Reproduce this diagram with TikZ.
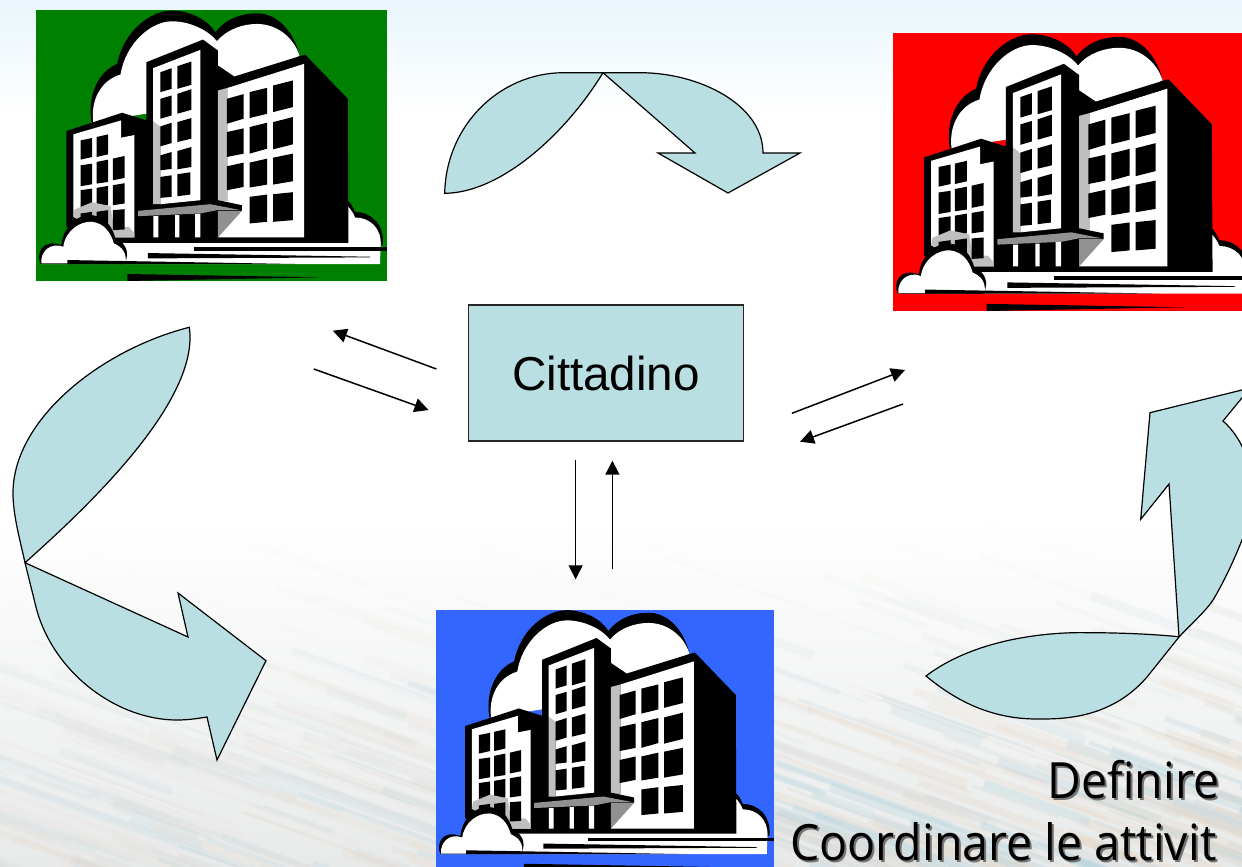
\documentclass[tikz,border=0pt]{standalone}
\usepackage{fontspec}
\setmainfont{Liberation Sans}
\newfontfamily\slidefont[FakeStretch=0.93]{Open Sans}
\usetikzlibrary{arrows.meta}
\definecolor{paleaqua}{HTML}{B9DFE2}
\definecolor{skytint}{HTML}{E9F6FB}
\definecolor{waterblue}{HTML}{B4D4DE}
\definecolor{waterbeige}{HTML}{E8D9C8}
\definecolor{watergrey}{HTML}{D5D8D8}
\definecolor{bluebg}{HTML}{3366FF}
\definecolor{greenbg}{HTML}{008000}
\tikzset{
  flowshape/.style={fill=paleaqua,draw=black,line width=1.2pt,line join=miter},
  citybox/.style={fill=paleaqua,draw=black!85,line width=1.3pt,minimum width=275pt,minimum height=136pt,inner sep=0pt},
  link/.style={draw=black,line width=1.5pt,-{Triangle[length=14pt,width=14pt]}},
  imgbg/.style={anchor=north west,inner sep=0pt,outer sep=0pt},
  slidetext/.style={anchor=base west,inner sep=0pt,font=\slidefont\fontsize{50}{50}\selectfont},
  lightgrey/.style={fill=black!25},
  midgrey/.style={fill=black!43}
}
\newcommand{\win}[8]{\fill[black] (#1,#2) -- (#3,#4) -- (#5,#6) -- (#7,#8) -- cycle;}
\newcommand{\cityart}{%
  % main cloud
  \fill[black] (183,365) .. controls (170,290) and (200,215) .. (260,190) .. controls (280,90) and (360,30) .. (425,30) .. controls (480,30) and (535,60) .. (555,95) .. controls (590,50) and (640,38) .. (680,38) .. controls (740,38) and (790,90) .. (808,165) -- (600,300) -- cycle;
  \fill[white] (188,365) .. controls (180,300) and (210,240) .. (270,222) .. controls (285,130) and (360,62) .. (425,62) .. controls (480,62) and (535,90) .. (560,122) .. controls (590,85) and (640,70) .. (680,70) .. controls (740,70) and (790,110) .. (808,165) -- (600,300) -- cycle;
  % right cloud
  \fill[black] (950,598) .. controls (965,610) and (970,625) .. (975,635) .. controls (1020,635) and (1065,670) .. (1058,735) -- (940,735) -- cycle;
  \fill[white] (950,615) .. controls (965,630) and (970,640) .. (975,652) .. controls (1020,652) and (1055,685) .. (1052,735) -- (940,735) -- cycle;
  % ground
  \fill[white] (280,725) -- (1052,725) -- (1050,792) -- (30,792) -- (60,760) -- cycle;
  % building mass
  \fill[black] (107,392) -- (275,337) -- (348,360) -- (348,185) -- (518,117) -- (563,150) -- (563,195) -- (612,228) -- (825,162) -- (953,295) -- (955,728) -- (250,728) -- (107,680) -- cycle;
  % left block
  \fill[white] (128,402) -- (272,360) -- (272,412) -- (312,404) -- (312,712) -- (250,712) -- (128,650) -- cycle;
  \win{150}{420}{185}{413}{185}{470}{150}{478}\win{198}{410}{233}{402}{233}{462}{198}{470}
  \win{150}{495}{185}{490}{185}{552}{150}{558}\win{198}{485}{233}{478}{233}{545}{198}{550}\win{247}{475}{282}{467}{282}{533}{247}{540}
  \win{150}{570}{185}{565}{185}{620}{150}{625}\win{198}{563}{233}{557}{233}{615}{198}{620}\win{247}{555}{282}{549}{282}{610}{247}{615}
  \fill[lightgrey] (128,650) -- (132,628) -- (185,606) -- (240,618) -- (250,680) -- (295,680) -- (312,700) -- (312,712) -- (250,712) -- cycle;
  \win{150}{640}{185}{635}{185}{680}{150}{680}\win{198}{635}{233}{630}{233}{685}{198}{685}\win{247}{630}{282}{627}{282}{688}{247}{690}
  % centre tower
  \fill[lightgrey] (368,362) -- (390,380) -- (390,612) -- (368,612) -- cycle;
  \fill[white] (368,203) -- (510,148) -- (510,600) -- (390,612) -- (390,380) -- (368,362) -- cycle;
  \win{390}{215}{424}{203}{424}{265}{390}{275}\win{441}{197}{483}{183}{483}{253}{441}{265}
  \win{390}{295}{424}{285}{424}{345}{390}{355}\win{441}{280}{483}{266}{483}{328}{441}{340}
  \win{390}{378}{424}{367}{424}{428}{390}{438}\win{441}{365}{483}{353}{483}{415}{441}{425}
  \win{390}{465}{424}{455}{424}{506}{390}{510}\win{441}{452}{483}{440}{483}{500}{441}{507}
  \win{390}{530}{424}{525}{424}{590}{390}{593}\win{441}{522}{480}{516}{480}{583}{441}{588}
  % right block
  \fill[lightgrey] (563,270) -- (593,262) -- (593,603) -- (563,603) -- cycle;
  \fill[white] (593,262) -- (822,190) -- (822,712) -- (563,712) -- (563,603) -- (593,603) -- cycle;
  \win{590}{295}{640}{281}{640}{355}{590}{370}\win{658}{275}{711}{262}{711}{340}{658}{353}\win{729}{255}{788}{240}{788}{320}{729}{335}
  \win{590}{395}{640}{384}{640}{460}{590}{470}\win{658}{380}{711}{367}{711}{445}{658}{460}\win{729}{365}{788}{350}{788}{432}{729}{447}
  \win{590}{498}{640}{487}{640}{560}{590}{570}\win{658}{487}{711}{475}{711}{553}{658}{562}\win{729}{472}{788}{460}{788}{543}{729}{553}
  \win{658}{590}{711}{583}{711}{665}{658}{670}\win{729}{582}{788}{576}{788}{660}{729}{665}
  % canopy
  \fill[black] (510,600) -- (563,600) -- (635,615) -- (635,632) -- (563,632) -- (563,712) -- (510,712) -- cycle;
  \fill[midgrey] (563,632) -- (635,632) -- (563,712) -- cycle;
  \fill[midgrey] (323,632) -- (540,612) -- (632,630) -- (560,630) -- (510,640) -- (323,648) -- cycle;
  \fill[white] (369,648) rectangle (384,712) (434,645) rectangle (447,712) (494,641) rectangle (510,712);
  % small cloud
  \fill[black] (30,792) .. controls (15,760) and (35,715) .. (92,735) .. controls (100,670) and (150,640) .. (185,645) .. controls (225,650) and (245,680) .. (255,715) .. controls (280,725) and (295,750) .. (288,775) -- (285,792) -- cycle;
  \fill[white] (32,790) .. controls (28,755) and (60,725) .. (98,740) .. controls (105,690) and (150,662) .. (185,665) .. controls (220,670) and (240,695) .. (250,730) .. controls (275,740) and (290,760) .. (285,790) -- cycle;
  % ground strips
  \fill[black] (490,741) rectangle (1071,752);
  \fill[black] (352,759) -- (1020,770) -- (1020,772) -- (352,775) -- cycle;
  \fill[black] (110,780) -- (800,792) -- (110,792) -- cycle;
  \fill[black] (291,822) -- (870,832) -- (291,843) -- cycle;
}
\begin{document}
\begin{tikzpicture}[x=1pt,y=-1pt]
\useasboundingbox (0,0) rectangle (1242,867);
\clip (0,0) rectangle (1242,867);
% background
\fill[white] (0,0) rectangle (1242,867);
\shade[top color=skytint,bottom color=white] (0,0) rectangle (1242,115);
\shade[top color=white,bottom color=watergrey!55] (0,520) rectangle (1242,867);
\pgfmathsetseed{4217}
\foreach \i in {1,...,420}{
  \pgfmathsetmacro{\sx}{rnd*1500-200}
  \pgfmathsetmacro{\sy}{500+sqrt(rnd)*380}
  \pgfmathsetmacro{\sl}{60+rnd*240}
  \pgfmathsetmacro{\sw}{1.5+rnd*9}
  \pgfmathsetmacro{\op}{max(0,(\sy-520)/347)*(0.16+0.30*max(0,\sx)/1242)}
  \pgfmathtruncatemacro{\pick}{int(rnd*3)}
  \ifcase\pick\def\tint{waterblue}\or\def\tint{waterbeige}\else\def\tint{watergrey}\fi
  \draw[color=\tint,opacity=\op,line width=\sw pt] (\sx,\sy) -- ++(\sl,0.36*\sl);
}
% buildings
\node[imgbg,fill=greenbg,minimum width=351pt,minimum height=271pt] (greenimg) at (36,10) {};
\begin{scope}[shift={(36,10)},xscale=0.3327,yscale=0.3325,shift={(-16,-28)}]\cityart\end{scope}
\node[imgbg,fill=red,minimum width=359pt,minimum height=277.5pt] (redimg) at (893,33.5) {};
\begin{scope}[shift={(893,33.5)},xscale=0.3403,yscale=0.3405,shift={(-16,-28)}]\cityart\end{scope}
\node[imgbg,fill=bluebg,minimum width=337.5pt,minimum height=261pt] (blueimg) at (436,609.5) {};
\begin{scope}[shift={(436,609.5)},xscale=0.3199,yscale=0.3202,shift={(-16,-28)}]\cityart\end{scope}
% curved arrows
\path[flowshape] (444.7,193.3) .. controls (446,125) and (500,73) .. (563,72.7) -- (603,72.7) -- (640,72.7) .. controls (700,72.7) and (763,105) .. (763,153) -- (800,153) -- (728,193) -- (658,153) -- (695,153) -- (603,72.7) .. controls (565,135) and (500,193) .. (444.7,193.3) -- cycle;
\path[flowshape] (189.3,327.3) .. controls (100,350) and (13,420) .. (13,493) .. controls (13,515) and (20,540) .. (25,562.7) -- (35,603) .. controls (50,670) and (115,720) .. (177,720) .. controls (190,720) and (200,718) .. (207,717) -- (217,760) -- (266,660.7) -- (178,593) -- (188,637) -- (25,562.7) .. controls (90,505) and (200,400) .. (189.3,327.3) -- cycle;
\path[flowshape] (926,676) .. controls (980,635) and (1060,632) .. (1087,632.7) .. controls (1120,632.7) and (1150,634) .. (1179,636.7) -- (1169,484) -- (1140.7,519.3) -- (1150,412.7) -- (1250,388) -- (1223,421) .. controls (1250,445) and (1262,490) .. (1242,540) .. controls (1232,565) and (1222,585) .. (1213,600) .. controls (1205,612) and (1190,625) .. (1179,637) -- (1147,677) .. controls (1110,720) and (1060,719) .. (1037,719) .. controls (990,719) and (955,700) .. (926,676) -- cycle;
% centre
\node[citybox] (citt) at (606,373) {\fontsize{47.6}{48}\selectfont Cittadino};
\coordinate (a1s) at (436.4,369); \coordinate (a1e) at (332.8,330.7);
\coordinate (a2s) at (313.8,369); \coordinate (a2e) at (428.5,410);
\coordinate (a3s) at (791.9,413.3); \coordinate (a3e) at (905,370);
\coordinate (a4s) at (903,404); \coordinate (a4e) at (800,441.7);
\coordinate (a5s) at (575.6,460); \coordinate (a5e) at (575.6,579.3);
\coordinate (a6s) at (612.4,568.7); \coordinate (a6e) at (612.4,460.7);
\draw[link] (a1s) -- (a1e);
\draw[link] (a2s) -- (a2e);
\draw[link] (a3s) -- (a3e);
\draw[link] (a4s) -- (a4e);
\draw[link] (a5s) -- (a5e);
\draw[link] (a6s) -- (a6e);
% slide text
\node[slidetext,text=black!55] (defs) at (1049,800) {Definire};
\node[slidetext,text=black] (deft) at (1047,798) {Definire};
\node[slidetext,text=black!55] (coos) at (792,862) {Coordinare le attivit};
\node[slidetext,text=black] (coot) at (790,860) {Coordinare le attivit};
\end{tikzpicture}
\end{document}
